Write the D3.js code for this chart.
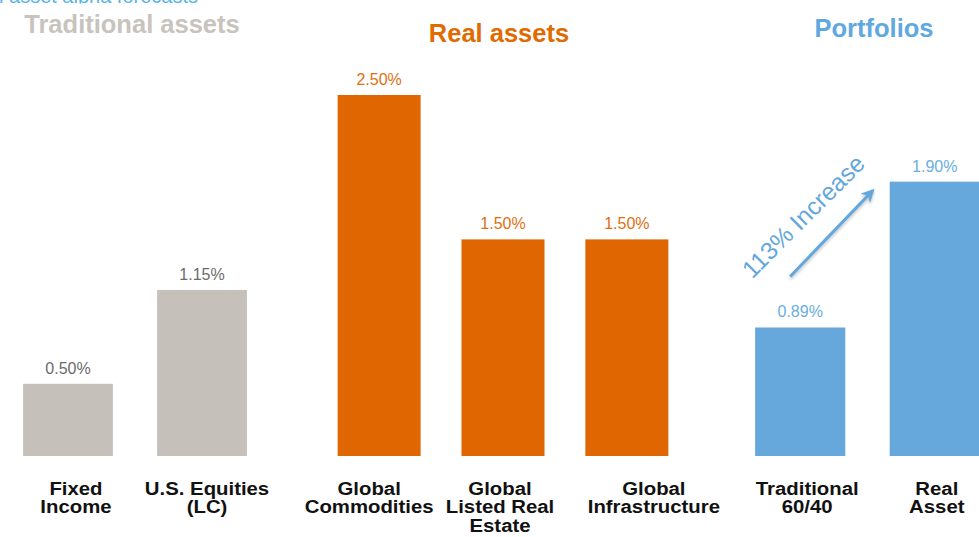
<!DOCTYPE html>
<html>
<head>
<meta charset="utf-8">
<script src="https://cdn.jsdelivr.net/npm/d3@7"></script>
<style>
  html, body { margin: 0; padding: 0; background: #fff; }
  svg { display: block; font-family: "Liberation Sans", Arial, sans-serif; }
</style>
</head>
<body>
<svg id="chart" width="979" height="537"></svg>
<script>
// Alpha forecasts by asset class, grouped into three panels
const groupNames = ["Traditional assets", "Real assets", "Portfolios"];
const categories = [
  "Fixed\nIncome",
  "U.S. Equities\n(LC)",
  "Global\nCommodities",
  "Global\nListed Real\nEstate",
  "Global\nInfrastructure",
  "Traditional\n60/40",
  "Real\nAsset"
];
const values = [0.50, 1.15, 2.50, 1.50, 1.50, 0.89, 1.90];
const groupIndex = [0, 0, 1, 1, 1, 2, 2];
const valueLabels = ["0.50%", "1.15%", "2.50%", "1.50%", "1.50%", "0.89%", "1.90%"];
const increaseLabel = "113% Increase";
const headerText = "Real asset alpha forecasts";

// Styling and layout
const barColors   = ["#c5c0ba", "#df6600", "#66a8dc"];
const labelColors = ["#6b6b6b", "#e0700f", "#6aaee0"];
const titleColors = ["#c8c3bc", "#e06b00", "#5fa8e0"];
const panelRanges = [[11, 259], [298, 708], [743, 992]];
const panelPad = [{inner: 0.33, outer: 0.09}, {inner: 0.33, outer: 0.32}, {inner: 0.33, outer: 0.09}];
const titlePos = [{x: 132, y: 33}, {x: 499, y: 42}, {x: 874, y: 37}];
const labelShift = [8, 5, -10, -3, 27, 7, 2];

const svg = d3.select("#chart");
const baseY = 456;
const y = d3.scaleLinear().domain([0, 2.5]).range([baseY, 95]);

const defs = svg.append("defs");
const sh = defs.append("filter").attr("id", "shadow")
  .attr("x", "-10%").attr("y", "-50%").attr("width", "120%").attr("height", "300%");
sh.append("feDropShadow").attr("dx", 0).attr("dy", 2).attr("stdDeviation", 1.5)
  .attr("flood-color", "#000").attr("flood-opacity", 0.25);

// The slide header is cropped: only a thin sliver of it remains
defs.append("clipPath").attr("id", "headerClip")
  .append("rect").attr("x", 0).attr("y", 0).attr("width", 979).attr("height", 3.5);

const markerId = "arrowhead";
defs.append("marker").attr("id", markerId)
  .attr("viewBox", "0 0 10 10").attr("refX", 8).attr("refY", 5)
  .attr("markerWidth", 4.5).attr("markerHeight", 4.5).attr("orient", "auto")
  .append("path").attr("d", "M0,0 L10,5 L0,10 L3,5 Z").attr("fill", "#64a7dc");

svg.append("text")
  .attr("x", 198).attr("y", 3)
  .attr("text-anchor", "end")
  .attr("font-size", 20)
  .attr("fill", "#5ab4e8")
  .attr("clip-path", "url(#headerClip)")
  .text(headerText);

// One band scale per panel
const xScales = groupNames.map((g, gi) => {
  const cats = categories.filter((c, i) => groupIndex[i] === gi);
  return d3.scaleBand().domain(cats).range(panelRanges[gi])
    .paddingInner(panelPad[gi].inner).paddingOuter(panelPad[gi].outer);
});

groupNames.forEach((name, gi) => {
  const g = svg.append("g");
  const xs = xScales[gi];

  // Panel title
  g.append("text")
    .attr("x", titlePos[gi].x).attr("y", titlePos[gi].y)
    .attr("text-anchor", "middle")
    .attr("font-size", 25.5).attr("font-weight", "bold")
    .attr("fill", titleColors[gi])
    .text(name);

  const idx = values.map((v, i) => i).filter(i => groupIndex[i] === gi);

  // Bars
  g.selectAll("rect.bar").data(idx).enter().append("rect")
    .attr("class", "bar")
    .attr("x", i => xs(categories[i]))
    .attr("width", xs.bandwidth())
    .attr("y", i => y(values[i]))
    .attr("height", i => baseY - y(values[i]))
    .attr("fill", barColors[gi]);

  // Value labels
  g.selectAll("text.val").data(idx).enter().append("text")
    .attr("class", "val")
    .attr("x", i => xs(categories[i]) + xs.bandwidth() / 2)
    .attr("y", i => y(values[i]) - 10)
    .attr("text-anchor", "middle")
    .attr("font-size", 16)
    .attr("fill", labelColors[gi])
    .text(i => valueLabels[i]);

  // Baseline
  g.append("line")
    .attr("x1", panelRanges[gi][0]).attr("x2", panelRanges[gi][1])
    .attr("y1", baseY).attr("y2", baseY)
    .attr("stroke", "#a8a8a8").attr("stroke-width", 1.5)
    .attr("filter", "url(#shadow)");

  // Category labels (slightly widened bold face)
  const cl = g.selectAll("text.cat").data(idx).enter().append("text")
    .attr("class", "cat")
    .attr("text-anchor", "middle")
    .attr("font-size", 18.5).attr("font-weight", "bold")
    .attr("fill", "#111")
    .attr("transform", i => `translate(${xs(categories[i]) + xs.bandwidth() / 2 + labelShift[i]},495) scale(1.1,1)`);
  cl.each(function(i) {
    const lines = categories[i].split("\n");
    d3.select(this).selectAll("tspan").data(lines).enter().append("tspan")
      .attr("x", 0).attr("y", (d, k) => k * 18.3)
      .text(d => d);
  });
});

// Increase annotation between the two portfolios
const xp = xScales[2];
const tradCat = categories[5], realCat = categories[6];
const tail = [xp(tradCat) + xp.bandwidth() / 2 - 10, y(values[5]) - 51];
const head = [xp(realCat) - 17, y(values[6]) + 9];
svg.append("line")
  .attr("x1", tail[0]).attr("y1", tail[1])
  .attr("x2", head[0]).attr("y2", head[1])
  .attr("stroke", "#64a7dc").attr("stroke-width", 3)
  .attr("marker-end", `url(#${markerId})`)
  .attr("filter", "url(#shadow)");

svg.append("text")
  .attr("transform", `translate(${tail[0] - 38},${tail[1] + 3}) rotate(-45)`)
  .attr("font-size", 24.5)
  .attr("fill", "#64a7dc")
  .text(increaseLabel);
</script>
</body>
</html>
